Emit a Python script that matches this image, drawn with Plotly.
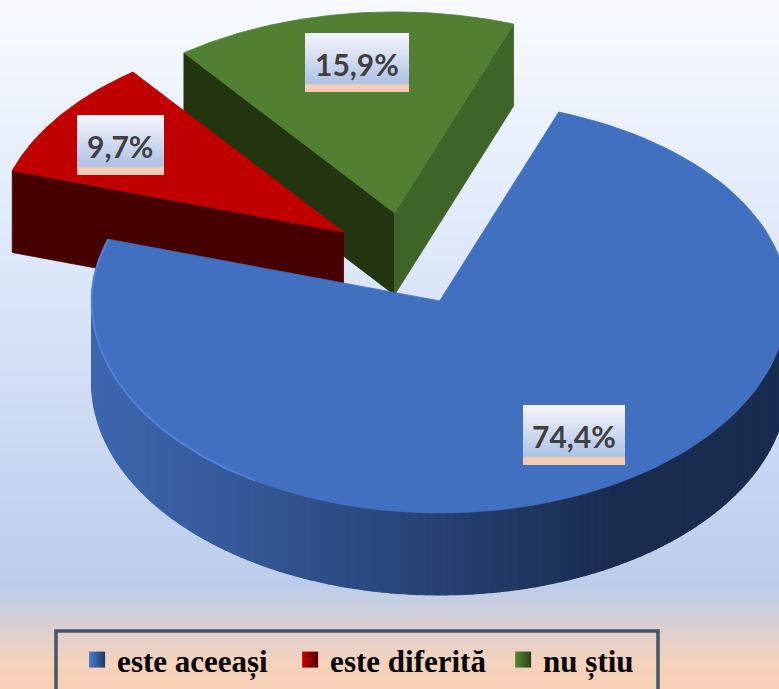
import math
import numpy as np
import plotly.graph_objects as go

# ---- data ----
categories = ["este aceeași", "este diferită", "nu știu"]
values = [74.4, 9.7, 15.9]

# ---- style / geometry ----
W, H = 779, 689
START = 20.0
CX, CY = 406, 259
RX = 348
RY_FRONT, RY_BACK = 212, 201
PULL = 0.22
DEPTH = 82
TOP = ["#4270c1", "#c00000", "#518032"]
LABEL_XY = [(574, 436), (120, 146), (357, 64)]
LABEL_BOX = [(523, 625, 405, 465), (77, 164, 115, 175), (305, 409, 33, 92)]
MARK = ["#4a7bd0", "#c80000", "#558a38"]
MARK_DARK = ["#1f3864", "#500000", "#2a4016"]

fig = go.Figure()


def poly(xs, ys, color, line=0.8):
    fig.add_trace(go.Scatter(
        x=list(xs), y=list(ys), mode="lines", fill="toself", fillcolor=color,
        line=dict(color=color, width=line), hoverinfo="skip", showlegend=False))


def pt(apex, deg):
    t = math.radians(deg)
    ry = RY_BACK if math.cos(t) > 0 else RY_FRONT
    return apex[0] + RX * math.sin(t), apex[1] - ry * math.cos(t)


def mix(c1, c2, f):
    a = [int(c1[i:i + 2], 16) for i in (1, 3, 5)]
    b = [int(c2[i:i + 2], 16) for i in (1, 3, 5)]
    return "#" + "".join(f"{round(p + (q - p) * f):02x}" for p, q in zip(a, b))


# background gradient
ys = np.arange(0, H + 1)
fig.add_trace(go.Heatmap(
    x=[0, W], y=ys, z=np.column_stack([ys, ys]), zmin=0, zmax=H,
    colorscale=[[0, "#f7faff"], [0.35, "#dfe9fb"], [0.85, "#bccdeb"],
                [0.96, "#f5d2bc"], [1, "#f8d0b5"]],
    showscale=False, hoverinfo="skip"))

# wedge angles and apexes, all derived from the values
total = sum(values)
spans, a0 = [], START
for v in values:
    a1 = a0 + v / total * 360
    spans.append((a0, a1))
    a0 = a1
apexes = []
for s0, s1 in spans:
    m = math.radians((s0 + s1) / 2)
    apexes.append((CX + RX * PULL * math.sin(m), CY - RY_FRONT * PULL * math.cos(m)))


def wedge_top(i, color):
    s0, s1 = spans[i]
    ap = apexes[i]
    th = np.linspace(s0, s1, 120)
    pts = [pt(ap, t) for t in th]
    poly([ap[0]] + [p[0] for p in pts] + [ap[0]],
         [ap[1]] + [p[1] for p in pts] + [ap[1]], color)


def cut_face(i, deg, color):
    ap = apexes[i]
    e = pt(ap, deg)
    poly([ap[0], e[0], e[0], ap[0], ap[0]],
         [ap[1], e[1], e[1] + DEPTH, ap[1] + DEPTH, ap[1]], color)


# green
cut_face(2, spans[2][0], "#223510")
cut_face(2, spans[2][1] % 360, "#3f6428")
wedge_top(2, TOP[2])
# red
cut_face(1, spans[1][0], "#470000")
wedge_top(1, TOP[1])

# blue outer wall, shaded along x
ap = apexes[0]
s0, s1 = spans[0]
lo = max(s0, 86)
th = np.arange(lo, s1 + 0.01, 1.5)
if th[-1] < s1:
    th = np.append(th, s1)
for t0, t1 in zip(th[:-1], th[1:]):
    p0, p1 = pt(ap, t0), pt(ap, t1)
    xm = (p0[0] + p1[0]) / 2
    f = min(max((xm - 95) / (610 - 95), 0), 1)
    c = mix("#3d66ae", "#192c50", f ** 1.1)
    poly([p0[0], p1[0], p1[0], p0[0], p0[0]],
         [p0[1], p1[1], p1[1] + DEPTH, p0[1] + DEPTH, p0[1]], c, line=1.2)
wedge_top(0, TOP[0])
# light rim along the front-left edge
rim = [pt(ap, t) for t in np.linspace(212, s1, 80)]
fig.add_trace(go.Scatter(x=[p[0] for p in rim], y=[p[1] for p in rim], mode="lines",
                         line=dict(color="#4f82d8", width=2), hoverinfo="skip", showlegend=False))

# data-label boxes: stacked strips give the vertical gradient
BOX_STOPS = [(0, "#f3f5fc"), (0.45, "#d2dcf0"), (0.85, "#adc2e4"), (0.88, "#f3cdb6"), (1, "#f4cbb2")]


def box_color(f):
    for (f0, c0), (f1, c1) in zip(BOX_STOPS[:-1], BOX_STOPS[1:]):
        if f <= f1:
            return mix(c0, c1, (f - f0) / (f1 - f0))
    return BOX_STOPS[-1][1]


for (x0, x1, y0, y1) in LABEL_BOX:
    n = y1 - y0
    for k in range(n):
        fig.add_shape(type="rect", x0=x0, x1=x1, y0=y0 + k, y1=min(y0 + k + 1.5, y1),
                      line=dict(width=0), fillcolor=box_color((k + 0.5) / n), layer="above")
for (x, y), v in zip(LABEL_XY, values):
    fig.add_annotation(x=x, y=y, text=f"{v:.1f}%".replace(".", ","), showarrow=False,
                       font=dict(family="Lato", size=30, color="#404040", weight="bold"),
                       xanchor="center", yanchor="middle")

# legend entries
for name, col, dark in zip(categories, MARK, MARK_DARK):
    fig.add_trace(go.Scatter(
        x=[None], y=[None], mode="markers", name=name,
        marker=dict(symbol="square", size=17, color=col,
                    gradient=dict(type="horizontal", color=dark))))

fig.add_shape(type="rect", x0=56, x1=658, y0=631, y1=705,
              line=dict(color="#44546a", width=3.5), fillcolor="rgba(0,0,0,0)")

fig.update_layout(
    width=W, height=H, margin=dict(l=0, r=0, t=0, b=0),
    paper_bgcolor="#f7faff", plot_bgcolor="rgba(0,0,0,0)",
    xaxis=dict(range=[0, W], visible=False, fixedrange=True),
    yaxis=dict(range=[H, 0], visible=False, fixedrange=True),
    legend=dict(orientation="h", x=0.099, y=0.003, xanchor="left", yanchor="bottom",
                bgcolor="rgba(0,0,0,0)", borderwidth=0, traceorder="normal",
                entrywidth=168, entrywidthmode="pixels", itemwidth=30,
                font=dict(family="Liberation Serif", size=31, color="#000000",
                          weight="bold"),
                itemclick=False, itemdoubleclick=False),
    hovermode=False, showlegend=True,
)
fig.write_html("out.html", config={"displayModeBar": False},
               post_script="document.body.style.margin='0';document.documentElement.style.overflow='hidden';")
